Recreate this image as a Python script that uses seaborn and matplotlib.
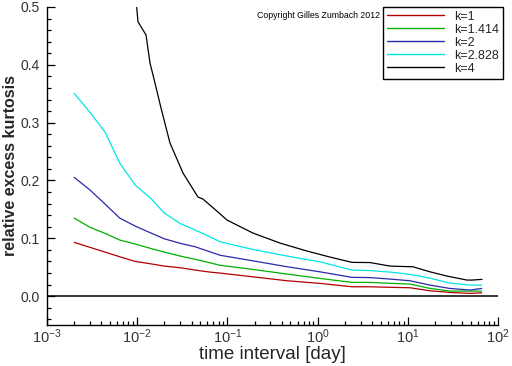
import numpy as np
import pandas as pd
import matplotlib
matplotlib.use("Agg")
import matplotlib.pyplot as plt
import matplotlib.ticker as mticker
import seaborn as sns

# ---- data ----
x_common = [0.002, 0.003, 0.0044, 0.0064, 0.0095, 0.014, 0.02, 0.03, 0.044, 0.064,
            0.083, 0.19, 0.46, 1.06, 2.4, 3.8, 6.4, 10.6, 17.6, 29, 49, 66]
k1 = [0.0929, 0.0843, 0.0761, 0.0680, 0.0600, 0.0559, 0.0519, 0.0490, 0.0450, 0.0415,
      0.0398, 0.0334, 0.0265, 0.0220, 0.0161, 0.0161, 0.0152, 0.0144, 0.0092, 0.0064, 0.0047, 0.0057]
k1414 = [0.135, 0.1189, 0.1085, 0.0969, 0.0900, 0.0825, 0.0761, 0.0692, 0.0635, 0.0576,
         0.0533, 0.0462, 0.0381, 0.0306, 0.0237, 0.0237, 0.0221, 0.0208, 0.0133, 0.0087, 0.0087, 0.0087]
k2 = [0.2054, 0.1834, 0.1592, 0.1349, 0.1211, 0.1095, 0.0991, 0.0912, 0.0853, 0.0766,
      0.0706, 0.0611, 0.0507, 0.0420, 0.0324, 0.0320, 0.0294, 0.0265, 0.0190, 0.0133, 0.0104, 0.0133]
k2828 = [0.3507, 0.3178, 0.2837, 0.2301, 0.1920, 0.1696, 0.1436, 0.1254, 0.1142, 0.1026,
         0.0939, 0.0808, 0.0692, 0.0593, 0.0450, 0.0441, 0.0415, 0.0375, 0.0311, 0.0225, 0.0190, 0.0190]
x_k4 = [0.00987, 0.0102, 0.01253, 0.01387, 0.01575, 0.01836, 0.0231, 0.0322, 0.0472, 0.0536,
        0.0787, 0.099, 0.192, 0.383, 0.763, 1.37, 2.41, 3.81, 6.35, 11.4, 17.6, 27.2, 45.3, 51.5, 66.5]
k4 = [0.4995, 0.4746, 0.4516, 0.4031, 0.3685, 0.3253, 0.2647, 0.2128, 0.1713, 0.1678,
      0.1453, 0.1315, 0.1090, 0.0917, 0.0779, 0.0675, 0.0583, 0.0580, 0.0519, 0.0507,
      0.0420, 0.0346, 0.0277, 0.0277, 0.0289]
labels = ["k=1", "k=1.414", "k=2", "k=2.828", "k=4"]
colors = ["#b00000", "#00b000", "#2a2aa8", "#00e6e6", "#000000"]

frames = []
for lab, xs, ys in zip(labels, [x_common] * 4 + [x_k4], [k1, k1414, k2, k2828, k4]):
    frames.append(pd.DataFrame({"t": xs, "kurt": ys, "k": lab}))
df = pd.concat(frames, ignore_index=True)

sns.set_theme(style="ticks")
plt.rcParams["font.family"] = ["Liberation Sans", "DejaVu Sans"]
plt.rcParams["mathtext.fontset"] = "custom"
plt.rcParams["mathtext.rm"] = "Liberation Sans"
plt.rcParams["mathtext.it"] = "Liberation Sans"

fig = plt.figure(figsize=(5.12, 3.66), dpi=100)
ax = fig.add_axes([47 / 512, 1 - 325 / 366, (498 - 47) / 512, (325 - 7) / 366])

sns.lineplot(data=df, x="t", y="kurt", hue="k", palette=dict(zip(labels, colors)),
             estimator=None, sort=False, linewidth=0.9, ax=ax, legend=False)
ax.axhline(0, color="black", linewidth=1.1)

ax.set_xscale("log")
ax.set_xlim(1e-3, 1e2)
ax.set_ylim(-0.05, 0.5)
ax.xaxis.set_major_locator(mticker.LogLocator(base=10, numticks=10))
ax.xaxis.set_minor_locator(mticker.LogLocator(base=10, subs=np.arange(2, 10), numticks=20))
ax.xaxis.set_major_formatter(mticker.FuncFormatter(lambda v, p: r"$10^{%d}$" % round(np.log10(v))))
ax.xaxis.set_minor_formatter(mticker.NullFormatter())
ax.yaxis.set_major_locator(mticker.MultipleLocator(0.1))
ax.yaxis.set_minor_locator(mticker.MultipleLocator(0.02))
ax.yaxis.set_major_formatter(mticker.FormatStrFormatter("%.1f"))

for s in ["top", "right"]:
    ax.spines[s].set_visible(False)
for s in ["left", "bottom"]:
    ax.spines[s].set_color("black")
    ax.spines[s].set_linewidth(1.0)
ax.tick_params(axis="both", which="major", direction="in", length=6, width=0.9, color="black")
ax.tick_params(axis="both", which="minor", direction="in", length=3, width=0.9, color="black")
ax.tick_params(axis="x", which="major", labelsize=10.5, labelcolor="#333333", pad=2)
ax.tick_params(axis="y", which="major", labelsize=10, labelcolor="#333333", pad=5)

ax.set_xlabel("time interval [day]", fontsize=13.5, labelpad=0)
ax.set_ylabel("relative excess kurtosis", fontsize=11.5, fontweight="bold", labelpad=2)

handles = [matplotlib.lines.Line2D([], [], color=c, linewidth=1.0) for c in colors]
leg = fig.legend(handles, labels, loc="upper left", bbox_to_anchor=(383 / 512, 1 - 7 / 366),
                 fontsize=9, frameon=True, fancybox=False, framealpha=1, edgecolor="black",
                 handlelength=4.6, handletextpad=0.8, labelspacing=0.08, borderpad=0.3,
                 borderaxespad=0)
leg.get_frame().set_linewidth(1.0)

fig.text(257 / 512, 1 - 15 / 366, "Copyright Gilles Zumbach 2012", fontsize=6.3,
         va="center", ha="left", color="black")

fig.savefig("out.png", dpi=100)
